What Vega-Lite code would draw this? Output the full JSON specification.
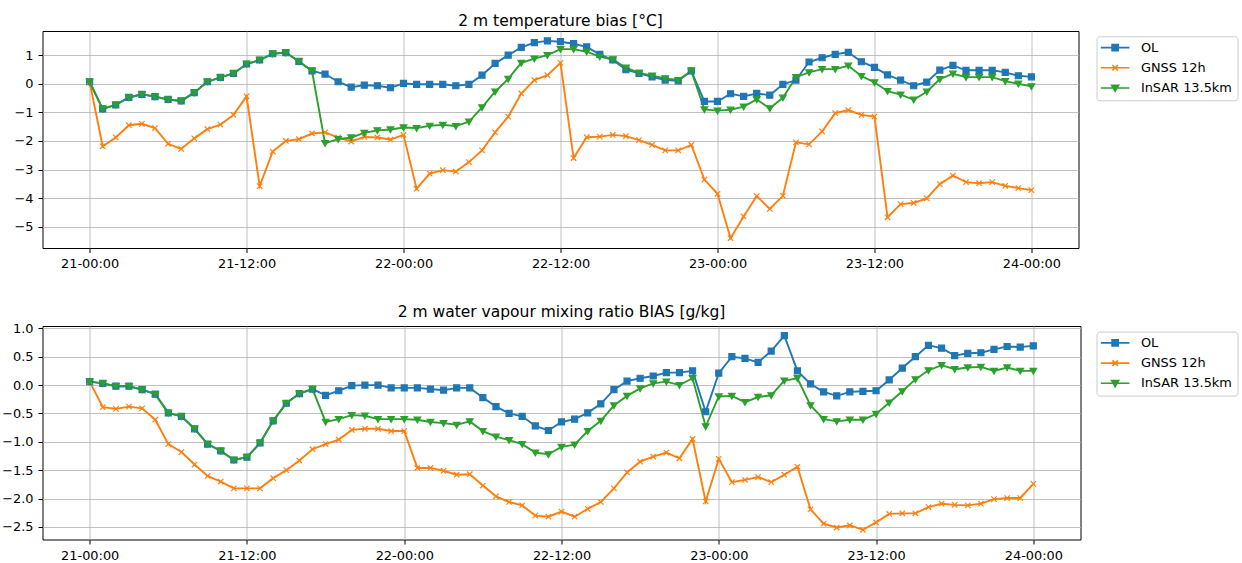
{
"$schema": "https://vega.github.io/schema/vega-lite/v6.json",
"padding": {"left": 0.5, "top": 13, "right": 2, "bottom": 2},
"spacing": 33,
"config": {
 "font": "DejaVu Sans",
 "view": {"stroke": "black", "strokeWidth": 1},
 "axis": {"grid": true, "gridColor": "#b0b0b0", "gridWidth": 0.8, "domain": false, "tickColor": "black", "tickSize": 4.5, "tickWidth": 1, "labelFontSize": 12.9, "labelColor": "black", "labelPadding": 5, "title": null, "labelFont": "DejaVu Sans"},
 "legend": {"title": null, "labelFontSize": 12.9, "labelFont": "DejaVu Sans", "labelColor": "black", "strokeColor": "#cccccc", "cornerRadius": 3, "fillColor": "white", "padding": 4.85, "labelOffset": 19.3, "symbolOffset": 7.35, "symbolSize": 100, "symbolStrokeWidth": 1.6, "rowPadding": 6.2, "symbolOpacity": 1},
 "title": {"fontSize": 15.5, "fontWeight": "normal", "font": "DejaVu Sans", "offset": 2, "color": "black"}
},
"resolve": {"scale": {"color": "independent", "stroke": "independent"}, "legend": {"color": "independent", "stroke": "independent"}},
"datasets": {
"T": [
{"s":"OL","h":0,"v":0.07},{"s":"OL","h":1,"v":-0.88},{"s":"OL","h":2,"v":-0.74},{"s":"OL","h":3,"v":-0.48},{"s":"OL","h":4,"v":-0.37},{"s":"OL","h":5,"v":-0.45},{"s":"OL","h":6,"v":-0.55},{"s":"OL","h":7,"v":-0.60},{"s":"OL","h":8,"v":-0.31},{"s":"OL","h":9,"v":0.07},
{"s":"OL","h":10,"v":0.22},{"s":"OL","h":11,"v":0.36},{"s":"OL","h":12,"v":0.69},{"s":"OL","h":13,"v":0.83},{"s":"OL","h":14,"v":1.05},{"s":"OL","h":15,"v":1.09},{"s":"OL","h":16,"v":0.78},{"s":"OL","h":17,"v":0.45},{"s":"OL","h":18,"v":0.34},{"s":"OL","h":19,"v":0.07},
{"s":"OL","h":20,"v":-0.12},{"s":"OL","h":21,"v":-0.05},{"s":"OL","h":22,"v":-0.07},{"s":"OL","h":23,"v":-0.14},{"s":"OL","h":24,"v":0.01},{"s":"OL","h":25,"v":-0.02},{"s":"OL","h":26,"v":-0.02},{"s":"OL","h":27,"v":-0.02},{"s":"OL","h":28,"v":-0.07},{"s":"OL","h":29,"v":-0.02},
{"s":"OL","h":30,"v":0.30},{"s":"OL","h":31,"v":0.71},{"s":"OL","h":32,"v":1.00},{"s":"OL","h":33,"v":1.27},{"s":"OL","h":34,"v":1.44},{"s":"OL","h":35,"v":1.50},{"s":"OL","h":36,"v":1.47},{"s":"OL","h":37,"v":1.40},{"s":"OL","h":38,"v":1.29},{"s":"OL","h":39,"v":1.03},
{"s":"OL","h":40,"v":0.83},{"s":"OL","h":41,"v":0.49},{"s":"OL","h":42,"v":0.36},{"s":"OL","h":43,"v":0.24},{"s":"OL","h":44,"v":0.13},{"s":"OL","h":45,"v":0.10},{"s":"OL","h":46,"v":0.45},{"s":"OL","h":47,"v":-0.62},{"s":"OL","h":48,"v":-0.62},{"s":"OL","h":49,"v":-0.35},
{"s":"OL","h":50,"v":-0.44},{"s":"OL","h":51,"v":-0.34},{"s":"OL","h":52,"v":-0.40},{"s":"OL","h":53,"v":-0.02},{"s":"OL","h":54,"v":0.13},{"s":"OL","h":55,"v":0.76},{"s":"OL","h":56,"v":0.91},{"s":"OL","h":57,"v":1.03},{"s":"OL","h":58,"v":1.10},{"s":"OL","h":59,"v":0.77},
{"s":"OL","h":60,"v":0.57},{"s":"OL","h":61,"v":0.31},{"s":"OL","h":62,"v":0.13},{"s":"OL","h":63,"v":-0.07},{"s":"OL","h":64,"v":0.06},{"s":"OL","h":65,"v":0.48},{"s":"OL","h":66,"v":0.64},{"s":"OL","h":67,"v":0.47},{"s":"OL","h":68,"v":0.47},{"s":"OL","h":69,"v":0.47},
{"s":"OL","h":70,"v":0.40},{"s":"OL","h":71,"v":0.28},{"s":"OL","h":72,"v":0.24},
{"s":"GNSS 12h","h":0,"v":0.07},{"s":"GNSS 12h","h":1,"v":-2.19},{"s":"GNSS 12h","h":2,"v":-1.88},{"s":"GNSS 12h","h":3,"v":-1.45},{"s":"GNSS 12h","h":4,"v":-1.40},{"s":"GNSS 12h","h":5,"v":-1.55},{"s":"GNSS 12h","h":6,"v":-2.10},{"s":"GNSS 12h","h":7,"v":-2.28},{"s":"GNSS 12h","h":8,"v":-1.91},{"s":"GNSS 12h","h":9,"v":-1.59},
{"s":"GNSS 12h","h":10,"v":-1.43},{"s":"GNSS 12h","h":11,"v":-1.09},{"s":"GNSS 12h","h":12,"v":-0.44},{"s":"GNSS 12h","h":13,"v":-3.58},{"s":"GNSS 12h","h":14,"v":-2.37},{"s":"GNSS 12h","h":15,"v":-2.00},{"s":"GNSS 12h","h":16,"v":-1.94},{"s":"GNSS 12h","h":17,"v":-1.74},{"s":"GNSS 12h","h":18,"v":-1.70},{"s":"GNSS 12h","h":19,"v":-1.88},
{"s":"GNSS 12h","h":20,"v":-2.02},{"s":"GNSS 12h","h":21,"v":-1.86},{"s":"GNSS 12h","h":22,"v":-1.88},{"s":"GNSS 12h","h":23,"v":-1.95},{"s":"GNSS 12h","h":24,"v":-1.79},{"s":"GNSS 12h","h":25,"v":-3.67},{"s":"GNSS 12h","h":26,"v":-3.14},{"s":"GNSS 12h","h":27,"v":-3.02},{"s":"GNSS 12h","h":28,"v":-3.07},{"s":"GNSS 12h","h":29,"v":-2.74},
{"s":"GNSS 12h","h":30,"v":-2.33},{"s":"GNSS 12h","h":31,"v":-1.70},{"s":"GNSS 12h","h":32,"v":-1.15},{"s":"GNSS 12h","h":33,"v":-0.34},{"s":"GNSS 12h","h":34,"v":0.13},{"s":"GNSS 12h","h":35,"v":0.30},{"s":"GNSS 12h","h":36,"v":0.73},{"s":"GNSS 12h","h":37,"v":-2.60},{"s":"GNSS 12h","h":38,"v":-1.87},{"s":"GNSS 12h","h":39,"v":-1.85},
{"s":"GNSS 12h","h":40,"v":-1.79},{"s":"GNSS 12h","h":41,"v":-1.83},{"s":"GNSS 12h","h":42,"v":-1.97},{"s":"GNSS 12h","h":43,"v":-2.14},{"s":"GNSS 12h","h":44,"v":-2.33},{"s":"GNSS 12h","h":45,"v":-2.33},{"s":"GNSS 12h","h":46,"v":-2.14},{"s":"GNSS 12h","h":47,"v":-3.35},{"s":"GNSS 12h","h":48,"v":-3.85},{"s":"GNSS 12h","h":49,"v":-5.40},
{"s":"GNSS 12h","h":50,"v":-4.64},{"s":"GNSS 12h","h":51,"v":-3.93},{"s":"GNSS 12h","h":52,"v":-4.38},{"s":"GNSS 12h","h":53,"v":-3.92},{"s":"GNSS 12h","h":54,"v":-2.05},{"s":"GNSS 12h","h":55,"v":-2.12},{"s":"GNSS 12h","h":56,"v":-1.67},{"s":"GNSS 12h","h":57,"v":-1.03},{"s":"GNSS 12h","h":58,"v":-0.92},{"s":"GNSS 12h","h":59,"v":-1.09},
{"s":"GNSS 12h","h":60,"v":-1.15},{"s":"GNSS 12h","h":61,"v":-4.67},{"s":"GNSS 12h","h":62,"v":-4.21},{"s":"GNSS 12h","h":63,"v":-4.17},{"s":"GNSS 12h","h":64,"v":-4.01},{"s":"GNSS 12h","h":65,"v":-3.51},{"s":"GNSS 12h","h":66,"v":-3.21},{"s":"GNSS 12h","h":67,"v":-3.44},{"s":"GNSS 12h","h":68,"v":-3.48},{"s":"GNSS 12h","h":69,"v":-3.44},
{"s":"GNSS 12h","h":70,"v":-3.57},{"s":"GNSS 12h","h":71,"v":-3.65},{"s":"GNSS 12h","h":72,"v":-3.72},
{"s":"InSAR 13.5km","h":0,"v":0.07},{"s":"InSAR 13.5km","h":1,"v":-0.88},{"s":"InSAR 13.5km","h":2,"v":-0.74},{"s":"InSAR 13.5km","h":3,"v":-0.48},{"s":"InSAR 13.5km","h":4,"v":-0.37},{"s":"InSAR 13.5km","h":5,"v":-0.45},{"s":"InSAR 13.5km","h":6,"v":-0.55},{"s":"InSAR 13.5km","h":7,"v":-0.60},{"s":"InSAR 13.5km","h":8,"v":-0.31},{"s":"InSAR 13.5km","h":9,"v":0.07},
{"s":"InSAR 13.5km","h":10,"v":0.22},{"s":"InSAR 13.5km","h":11,"v":0.36},{"s":"InSAR 13.5km","h":12,"v":0.69},{"s":"InSAR 13.5km","h":13,"v":0.83},{"s":"InSAR 13.5km","h":14,"v":1.05},{"s":"InSAR 13.5km","h":15,"v":1.09},{"s":"InSAR 13.5km","h":16,"v":0.78},{"s":"InSAR 13.5km","h":17,"v":0.45},{"s":"InSAR 13.5km","h":18,"v":-2.08},{"s":"InSAR 13.5km","h":19,"v":-1.94},
{"s":"InSAR 13.5km","h":20,"v":-1.88},{"s":"InSAR 13.5km","h":21,"v":-1.72},{"s":"InSAR 13.5km","h":22,"v":-1.63},{"s":"InSAR 13.5km","h":23,"v":-1.60},{"s":"InSAR 13.5km","h":24,"v":-1.53},{"s":"InSAR 13.5km","h":25,"v":-1.55},{"s":"InSAR 13.5km","h":26,"v":-1.47},{"s":"InSAR 13.5km","h":27,"v":-1.44},{"s":"InSAR 13.5km","h":28,"v":-1.48},{"s":"InSAR 13.5km","h":29,"v":-1.33},
{"s":"InSAR 13.5km","h":30,"v":-0.83},{"s":"InSAR 13.5km","h":31,"v":-0.28},{"s":"InSAR 13.5km","h":32,"v":0.17},{"s":"InSAR 13.5km","h":33,"v":0.73},{"s":"InSAR 13.5km","h":34,"v":0.88},{"s":"InSAR 13.5km","h":35,"v":1.00},{"s":"InSAR 13.5km","h":36,"v":1.21},{"s":"InSAR 13.5km","h":37,"v":1.21},{"s":"InSAR 13.5km","h":38,"v":1.12},{"s":"InSAR 13.5km","h":39,"v":0.95},
{"s":"InSAR 13.5km","h":40,"v":0.85},{"s":"InSAR 13.5km","h":41,"v":0.56},{"s":"InSAR 13.5km","h":42,"v":0.38},{"s":"InSAR 13.5km","h":43,"v":0.28},{"s":"InSAR 13.5km","h":44,"v":0.19},{"s":"InSAR 13.5km","h":45,"v":0.13},{"s":"InSAR 13.5km","h":46,"v":0.45},{"s":"InSAR 13.5km","h":47,"v":-0.90},{"s":"InSAR 13.5km","h":48,"v":-0.94},{"s":"InSAR 13.5km","h":49,"v":-0.91},
{"s":"InSAR 13.5km","h":50,"v":-0.80},{"s":"InSAR 13.5km","h":51,"v":-0.55},{"s":"InSAR 13.5km","h":52,"v":-0.86},{"s":"InSAR 13.5km","h":53,"v":-0.49},{"s":"InSAR 13.5km","h":54,"v":0.23},{"s":"InSAR 13.5km","h":55,"v":0.40},{"s":"InSAR 13.5km","h":56,"v":0.51},{"s":"InSAR 13.5km","h":57,"v":0.51},{"s":"InSAR 13.5km","h":58,"v":0.63},{"s":"InSAR 13.5km","h":59,"v":0.27},
{"s":"InSAR 13.5km","h":60,"v":0.05},{"s":"InSAR 13.5km","h":61,"v":-0.26},{"s":"InSAR 13.5km","h":62,"v":-0.38},{"s":"InSAR 13.5km","h":63,"v":-0.56},{"s":"InSAR 13.5km","h":64,"v":-0.28},{"s":"InSAR 13.5km","h":65,"v":0.16},{"s":"InSAR 13.5km","h":66,"v":0.35},{"s":"InSAR 13.5km","h":67,"v":0.23},{"s":"InSAR 13.5km","h":68,"v":0.23},{"s":"InSAR 13.5km","h":69,"v":0.23},
{"s":"InSAR 13.5km","h":70,"v":0.09},{"s":"InSAR 13.5km","h":71,"v":0.00},{"s":"InSAR 13.5km","h":72,"v":-0.09}
],
"Q": [
{"s":"OL","h":0,"v":0.06},{"s":"OL","h":1,"v":0.03},{"s":"OL","h":2,"v":-0.02},{"s":"OL","h":3,"v":-0.02},{"s":"OL","h":4,"v":-0.08},{"s":"OL","h":5,"v":-0.16},{"s":"OL","h":6,"v":-0.49},{"s":"OL","h":7,"v":-0.55},{"s":"OL","h":8,"v":-0.77},{"s":"OL","h":9,"v":-1.04},
{"s":"OL","h":10,"v":-1.16},{"s":"OL","h":11,"v":-1.32},{"s":"OL","h":12,"v":-1.27},{"s":"OL","h":13,"v":-1.02},{"s":"OL","h":14,"v":-0.63},{"s":"OL","h":15,"v":-0.32},{"s":"OL","h":16,"v":-0.15},{"s":"OL","h":17,"v":-0.07},{"s":"OL","h":18,"v":-0.18},{"s":"OL","h":19,"v":-0.10},
{"s":"OL","h":20,"v":-0.01},{"s":"OL","h":21,"v":0.00},{"s":"OL","h":22,"v":0.00},{"s":"OL","h":23,"v":-0.05},{"s":"OL","h":24,"v":-0.05},{"s":"OL","h":25,"v":-0.05},{"s":"OL","h":26,"v":-0.07},{"s":"OL","h":27,"v":-0.09},{"s":"OL","h":28,"v":-0.05},{"s":"OL","h":29,"v":-0.05},
{"s":"OL","h":30,"v":-0.22},{"s":"OL","h":31,"v":-0.38},{"s":"OL","h":32,"v":-0.50},{"s":"OL","h":33,"v":-0.55},{"s":"OL","h":34,"v":-0.72},{"s":"OL","h":35,"v":-0.80},{"s":"OL","h":36,"v":-0.65},{"s":"OL","h":37,"v":-0.60},{"s":"OL","h":38,"v":-0.49},{"s":"OL","h":39,"v":-0.33},
{"s":"OL","h":40,"v":-0.08},{"s":"OL","h":41,"v":0.07},{"s":"OL","h":42,"v":0.12},{"s":"OL","h":43,"v":0.16},{"s":"OL","h":44,"v":0.22},{"s":"OL","h":45,"v":0.22},{"s":"OL","h":46,"v":0.25},{"s":"OL","h":47,"v":-0.47},{"s":"OL","h":48,"v":0.21},{"s":"OL","h":49,"v":0.50},
{"s":"OL","h":50,"v":0.47},{"s":"OL","h":51,"v":0.40},{"s":"OL","h":52,"v":0.60},{"s":"OL","h":53,"v":0.87},{"s":"OL","h":54,"v":0.25},{"s":"OL","h":55,"v":0.02},{"s":"OL","h":56,"v":-0.12},{"s":"OL","h":57,"v":-0.19},{"s":"OL","h":58,"v":-0.12},{"s":"OL","h":59,"v":-0.11},
{"s":"OL","h":60,"v":-0.10},{"s":"OL","h":61,"v":0.09},{"s":"OL","h":62,"v":0.30},{"s":"OL","h":63,"v":0.50},{"s":"OL","h":64,"v":0.70},{"s":"OL","h":65,"v":0.65},{"s":"OL","h":66,"v":0.52},{"s":"OL","h":67,"v":0.56},{"s":"OL","h":68,"v":0.57},{"s":"OL","h":69,"v":0.63},
{"s":"OL","h":70,"v":0.68},{"s":"OL","h":71,"v":0.67},{"s":"OL","h":72,"v":0.69},
{"s":"GNSS 12h","h":0,"v":0.06},{"s":"GNSS 12h","h":1,"v":-0.39},{"s":"GNSS 12h","h":2,"v":-0.42},{"s":"GNSS 12h","h":3,"v":-0.38},{"s":"GNSS 12h","h":4,"v":-0.41},{"s":"GNSS 12h","h":5,"v":-0.61},{"s":"GNSS 12h","h":6,"v":-1.04},{"s":"GNSS 12h","h":7,"v":-1.18},{"s":"GNSS 12h","h":8,"v":-1.40},{"s":"GNSS 12h","h":9,"v":-1.60},
{"s":"GNSS 12h","h":10,"v":-1.70},{"s":"GNSS 12h","h":11,"v":-1.82},{"s":"GNSS 12h","h":12,"v":-1.82},{"s":"GNSS 12h","h":13,"v":-1.82},{"s":"GNSS 12h","h":14,"v":-1.64},{"s":"GNSS 12h","h":15,"v":-1.50},{"s":"GNSS 12h","h":16,"v":-1.33},{"s":"GNSS 12h","h":17,"v":-1.13},{"s":"GNSS 12h","h":18,"v":-1.04},{"s":"GNSS 12h","h":19,"v":-0.96},
{"s":"GNSS 12h","h":20,"v":-0.79},{"s":"GNSS 12h","h":21,"v":-0.77},{"s":"GNSS 12h","h":22,"v":-0.77},{"s":"GNSS 12h","h":23,"v":-0.81},{"s":"GNSS 12h","h":24,"v":-0.81},{"s":"GNSS 12h","h":25,"v":-1.46},{"s":"GNSS 12h","h":26,"v":-1.46},{"s":"GNSS 12h","h":27,"v":-1.51},{"s":"GNSS 12h","h":28,"v":-1.58},{"s":"GNSS 12h","h":29,"v":-1.57},
{"s":"GNSS 12h","h":30,"v":-1.77},{"s":"GNSS 12h","h":31,"v":-1.96},{"s":"GNSS 12h","h":32,"v":-2.06},{"s":"GNSS 12h","h":33,"v":-2.12},{"s":"GNSS 12h","h":34,"v":-2.30},{"s":"GNSS 12h","h":35,"v":-2.32},{"s":"GNSS 12h","h":36,"v":-2.23},{"s":"GNSS 12h","h":37,"v":-2.32},{"s":"GNSS 12h","h":38,"v":-2.18},{"s":"GNSS 12h","h":39,"v":-2.06},
{"s":"GNSS 12h","h":40,"v":-1.82},{"s":"GNSS 12h","h":41,"v":-1.54},{"s":"GNSS 12h","h":42,"v":-1.35},{"s":"GNSS 12h","h":43,"v":-1.26},{"s":"GNSS 12h","h":44,"v":-1.19},{"s":"GNSS 12h","h":45,"v":-1.29},{"s":"GNSS 12h","h":46,"v":-0.95},{"s":"GNSS 12h","h":47,"v":-2.05},{"s":"GNSS 12h","h":48,"v":-1.30},{"s":"GNSS 12h","h":49,"v":-1.71},
{"s":"GNSS 12h","h":50,"v":-1.67},{"s":"GNSS 12h","h":51,"v":-1.62},{"s":"GNSS 12h","h":52,"v":-1.71},{"s":"GNSS 12h","h":53,"v":-1.58},{"s":"GNSS 12h","h":54,"v":-1.44},{"s":"GNSS 12h","h":55,"v":-2.19},{"s":"GNSS 12h","h":56,"v":-2.44},{"s":"GNSS 12h","h":57,"v":-2.51},{"s":"GNSS 12h","h":58,"v":-2.47},{"s":"GNSS 12h","h":59,"v":-2.55},
{"s":"GNSS 12h","h":60,"v":-2.42},{"s":"GNSS 12h","h":61,"v":-2.27},{"s":"GNSS 12h","h":62,"v":-2.26},{"s":"GNSS 12h","h":63,"v":-2.26},{"s":"GNSS 12h","h":64,"v":-2.15},{"s":"GNSS 12h","h":65,"v":-2.09},{"s":"GNSS 12h","h":66,"v":-2.11},{"s":"GNSS 12h","h":67,"v":-2.12},{"s":"GNSS 12h","h":68,"v":-2.09},{"s":"GNSS 12h","h":69,"v":-2.01},
{"s":"GNSS 12h","h":70,"v":-1.99},{"s":"GNSS 12h","h":71,"v":-1.99},{"s":"GNSS 12h","h":72,"v":-1.74},
{"s":"InSAR 13.5km","h":0,"v":0.06},{"s":"InSAR 13.5km","h":1,"v":0.03},{"s":"InSAR 13.5km","h":2,"v":-0.02},{"s":"InSAR 13.5km","h":3,"v":-0.02},{"s":"InSAR 13.5km","h":4,"v":-0.08},{"s":"InSAR 13.5km","h":5,"v":-0.16},{"s":"InSAR 13.5km","h":6,"v":-0.49},{"s":"InSAR 13.5km","h":7,"v":-0.55},{"s":"InSAR 13.5km","h":8,"v":-0.77},{"s":"InSAR 13.5km","h":9,"v":-1.04},
{"s":"InSAR 13.5km","h":10,"v":-1.16},{"s":"InSAR 13.5km","h":11,"v":-1.32},{"s":"InSAR 13.5km","h":12,"v":-1.27},{"s":"InSAR 13.5km","h":13,"v":-1.02},{"s":"InSAR 13.5km","h":14,"v":-0.63},{"s":"InSAR 13.5km","h":15,"v":-0.32},{"s":"InSAR 13.5km","h":16,"v":-0.15},{"s":"InSAR 13.5km","h":17,"v":-0.07},{"s":"InSAR 13.5km","h":18,"v":-0.65},{"s":"InSAR 13.5km","h":19,"v":-0.60},
{"s":"InSAR 13.5km","h":20,"v":-0.53},{"s":"InSAR 13.5km","h":21,"v":-0.54},{"s":"InSAR 13.5km","h":22,"v":-0.60},{"s":"InSAR 13.5km","h":23,"v":-0.60},{"s":"InSAR 13.5km","h":24,"v":-0.60},{"s":"InSAR 13.5km","h":25,"v":-0.61},{"s":"InSAR 13.5km","h":26,"v":-0.65},{"s":"InSAR 13.5km","h":27,"v":-0.67},{"s":"InSAR 13.5km","h":28,"v":-0.70},{"s":"InSAR 13.5km","h":29,"v":-0.64},
{"s":"InSAR 13.5km","h":30,"v":-0.81},{"s":"InSAR 13.5km","h":31,"v":-0.91},{"s":"InSAR 13.5km","h":32,"v":-0.97},{"s":"InSAR 13.5km","h":33,"v":-1.04},{"s":"InSAR 13.5km","h":34,"v":-1.19},{"s":"InSAR 13.5km","h":35,"v":-1.22},{"s":"InSAR 13.5km","h":36,"v":-1.09},{"s":"InSAR 13.5km","h":37,"v":-1.05},{"s":"InSAR 13.5km","h":38,"v":-0.81},{"s":"InSAR 13.5km","h":39,"v":-0.63},
{"s":"InSAR 13.5km","h":40,"v":-0.36},{"s":"InSAR 13.5km","h":41,"v":-0.19},{"s":"InSAR 13.5km","h":42,"v":-0.06},{"s":"InSAR 13.5km","h":43,"v":0.03},{"s":"InSAR 13.5km","h":44,"v":0.06},{"s":"InSAR 13.5km","h":45,"v":0.00},{"s":"InSAR 13.5km","h":46,"v":0.12},{"s":"InSAR 13.5km","h":47,"v":-0.73},{"s":"InSAR 13.5km","h":48,"v":-0.20},{"s":"InSAR 13.5km","h":49,"v":-0.19},
{"s":"InSAR 13.5km","h":50,"v":-0.30},{"s":"InSAR 13.5km","h":51,"v":-0.21},{"s":"InSAR 13.5km","h":52,"v":-0.18},{"s":"InSAR 13.5km","h":53,"v":0.08},{"s":"InSAR 13.5km","h":54,"v":0.12},{"s":"InSAR 13.5km","h":55,"v":-0.36},{"s":"InSAR 13.5km","h":56,"v":-0.60},{"s":"InSAR 13.5km","h":57,"v":-0.64},{"s":"InSAR 13.5km","h":58,"v":-0.61},{"s":"InSAR 13.5km","h":59,"v":-0.61},
{"s":"InSAR 13.5km","h":60,"v":-0.51},{"s":"InSAR 13.5km","h":61,"v":-0.31},{"s":"InSAR 13.5km","h":62,"v":-0.11},{"s":"InSAR 13.5km","h":63,"v":0.10},{"s":"InSAR 13.5km","h":64,"v":0.26},{"s":"InSAR 13.5km","h":65,"v":0.35},{"s":"InSAR 13.5km","h":66,"v":0.28},{"s":"InSAR 13.5km","h":67,"v":0.31},{"s":"InSAR 13.5km","h":68,"v":0.32},{"s":"InSAR 13.5km","h":69,"v":0.25},
{"s":"InSAR 13.5km","h":70,"v":0.31},{"s":"InSAR 13.5km","h":71,"v":0.25},{"s":"InSAR 13.5km","h":72,"v":0.25}
]
},
"vconcat": [
{"resolve": {"scale": {"color": "independent", "stroke": "independent"}, "legend": {"color": "independent", "stroke": "independent"}},
 "hconcat": [
{
 "title": "2 m temperature bias [°C]",
 "width": 1036, "height": 217,
 "data": {"name": "T"},
 "encoding": {
  "x": {"field": "h", "type": "quantitative", "scale": {"domain": [-3.6, 75.6], "nice": false, "zero": false}, "axis": {"values": [0,12,24,36,48,60,72], "labelExpr": "(21+floor(datum.value/24)) + '-' + (datum.value%24==0 ? '00' : '12') + ':00'"}},
  "y": {"field": "v", "type": "quantitative", "scale": {"domain": [-5.745, 1.845], "nice": false, "zero": false}, "axis": {"values": [-5,-4,-3,-2,-1,0,1], "labelExpr": "replace(format(datum.value,'d'),'-','−')"}},
  "color": {"field": "s", "type": "nominal", "scale": {"domain": ["OL","GNSS 12h","InSAR 13.5km"], "range": ["#1f77b4","#ff7f0e","#2ca02c"]},
      "legend": {"orient": "none", "legendX": 1054, "legendY": 5.3,
        "encode": {"symbols": {"update": {
          "shape": {"signal": "datum.value=='OL' ? 'M-2.86,0H2.86M-0.62,-0.62H0.62V0.62H-0.62Z' : datum.value=='GNSS 12h' ? 'M-2.86,0H2.86M-0.55,-0.55L0.55,0.55M-0.55,0.55L0.55,-0.55' : 'M-2.86,0H2.86M-0.7,-0.55H0.7L0,0.65Z'"},
          "size": {"value": 100}, "strokeWidth": {"value": 1.6}}}}}}
 },
 "layer": [
  {"mark": {"type": "line", "strokeWidth": 1.9}},
  {"transform": [{"filter": "datum.s=='OL'"}], "mark": {"type": "point", "filled": true, "shape": "M-1,-1H1V1H-1Z", "size": 36, "strokeWidth": 1.2, "opacity": 1},
   "encoding": {"stroke": {"field": "s", "type": "nominal", "scale": {"domain": ["OL","GNSS 12h","InSAR 13.5km"], "range": ["#1f77b4","#ff7f0e","#2ca02c"]}, "legend": null}}},
  {"transform": [{"filter": "datum.s=='GNSS 12h'"}], "mark": {"type": "point", "filled": true, "shape": "M-0.9,-0.9L0.9,0.9M-0.9,0.9L0.9,-0.9", "size": 36, "strokeWidth": 1.2, "opacity": 1},
   "encoding": {"stroke": {"field": "s", "type": "nominal", "scale": {"domain": ["OL","GNSS 12h","InSAR 13.5km"], "range": ["#1f77b4","#ff7f0e","#2ca02c"]}, "legend": null}}},
  {"transform": [{"filter": "datum.s=='InSAR 13.5km'"}], "mark": {"type": "point", "filled": true, "shape": "M-1.1,-0.85H1.1L0,1.05Z", "size": 36, "strokeWidth": 1.2, "opacity": 1},
   "encoding": {"stroke": {"field": "s", "type": "nominal", "scale": {"domain": ["OL","GNSS 12h","InSAR 13.5km"], "range": ["#1f77b4","#ff7f0e","#2ca02c"]}, "legend": null}}}
 ]
}]},
{"resolve": {"scale": {"color": "independent", "stroke": "independent"}, "legend": {"color": "independent", "stroke": "independent"}},
 "hconcat": [
{
 "title": "2 m water vapour mixing ratio BIAS [g/kg]",
 "width": 1038, "height": 213.5,
 "data": {"name": "Q"},
 "encoding": {
  "x": {"field": "h", "type": "quantitative", "scale": {"domain": [-3.6, 75.6], "nice": false, "zero": false}, "axis": {"values": [0,12,24,36,48,60,72], "labelExpr": "(21+floor(datum.value/24)) + '-' + (datum.value%24==0 ? '00' : '12') + ':00'"}},
  "y": {"field": "v", "type": "quantitative", "scale": {"domain": [-2.721, 1.041], "nice": false, "zero": false}, "axis": {"values": [-2.5,-2,-1.5,-1,-0.5,0,0.5,1], "labelExpr": "replace(format(datum.value,'.1f'),'-','−')"}},
  "color": {"field": "s", "type": "nominal", "scale": {"domain": ["OL","GNSS 12h","InSAR 13.5km"], "range": ["#1f77b4","#ff7f0e","#2ca02c"]},
      "legend": {"orient": "none", "legendX": 1054, "legendY": 5.6,
        "encode": {"symbols": {"update": {
          "shape": {"signal": "datum.value=='OL' ? 'M-2.86,0H2.86M-0.62,-0.62H0.62V0.62H-0.62Z' : datum.value=='GNSS 12h' ? 'M-2.86,0H2.86M-0.55,-0.55L0.55,0.55M-0.55,0.55L0.55,-0.55' : 'M-2.86,0H2.86M-0.7,-0.55H0.7L0,0.65Z'"},
          "size": {"value": 100}, "strokeWidth": {"value": 1.6}}}}}}
 },
 "layer": [
  {"mark": {"type": "line", "strokeWidth": 1.9}},
  {"transform": [{"filter": "datum.s=='OL'"}], "mark": {"type": "point", "filled": true, "shape": "M-1,-1H1V1H-1Z", "size": 36, "strokeWidth": 1.2, "opacity": 1},
   "encoding": {"stroke": {"field": "s", "type": "nominal", "scale": {"domain": ["OL","GNSS 12h","InSAR 13.5km"], "range": ["#1f77b4","#ff7f0e","#2ca02c"]}, "legend": null}}},
  {"transform": [{"filter": "datum.s=='GNSS 12h'"}], "mark": {"type": "point", "filled": true, "shape": "M-0.9,-0.9L0.9,0.9M-0.9,0.9L0.9,-0.9", "size": 36, "strokeWidth": 1.2, "opacity": 1},
   "encoding": {"stroke": {"field": "s", "type": "nominal", "scale": {"domain": ["OL","GNSS 12h","InSAR 13.5km"], "range": ["#1f77b4","#ff7f0e","#2ca02c"]}, "legend": null}}},
  {"transform": [{"filter": "datum.s=='InSAR 13.5km'"}], "mark": {"type": "point", "filled": true, "shape": "M-1.1,-0.85H1.1L0,1.05Z", "size": 36, "strokeWidth": 1.2, "opacity": 1},
   "encoding": {"stroke": {"field": "s", "type": "nominal", "scale": {"domain": ["OL","GNSS 12h","InSAR 13.5km"], "range": ["#1f77b4","#ff7f0e","#2ca02c"]}, "legend": null}}}
 ]
}]}
]
}
